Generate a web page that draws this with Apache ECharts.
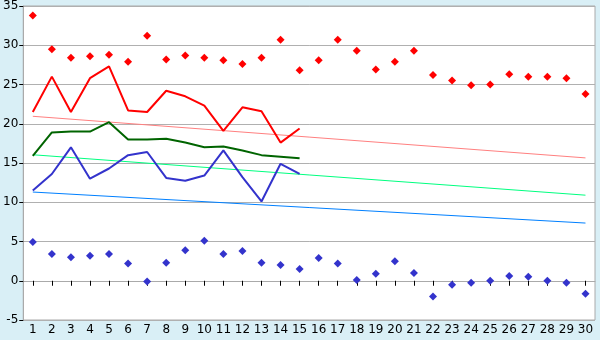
<!DOCTYPE html>
<html>
<head>
<meta charset="utf-8">
<script src="https://cdn.jsdelivr.net/npm/echarts@6/dist/echarts.min.js"></script>
<style>html,body{margin:0;padding:0;background:#d9eff6;}#c{width:600px;height:340px;}</style>
</head>
<body>
<div id="c"></div>
<script>
const categories = ['1','2','3','4','5','6','7','8','9','10','11','12','13','14','15','16','17','18','19','20','21','22','23','24','25','26','27','28','29','30'];
const maxPoints = [33.8,29.5,28.4,28.6,28.8,27.9,31.2,28.2,28.7,28.4,28.1,27.6,28.4,30.7,26.8,28.1,30.7,29.3,26.9,27.9,29.3,26.2,25.5,24.9,25.0,26.3,26.0,26.0,25.8,23.8];
const minPoints = [4.95,3.4,3.0,3.2,3.4,2.2,-0.1,2.3,3.9,5.1,3.4,3.8,2.3,2.0,1.5,2.9,2.2,0.1,0.9,2.5,1.0,-2.0,-0.5,-0.25,0.0,0.6,0.5,0.0,-0.25,-1.65];
const maxLine = [21.5,26.0,21.5,25.8,27.3,21.7,21.5,24.2,23.5,22.3,19.1,22.1,21.6,17.6,19.4];
const avgLine = [15.9,18.9,19.0,19.0,20.2,18.0,18.0,18.1,17.6,17.0,17.1,16.6,16.0,15.8,15.6];
const minLine = [11.5,13.6,17.0,13.0,14.3,16.0,16.4,13.1,12.75,13.4,16.6,13.2,10.1,14.9,13.6];
const maxTrend = [20.95,15.65];
const avgTrend = [16.05,10.9];
const minTrend = [11.3,7.35];

function trend(ends){
  const arr = categories.map(()=>null);
  arr[0] = ends[0];
  arr[arr.length-1] = ends[1];
  return arr;
}

const chart = echarts.init(document.getElementById('c'), null, {renderer:'canvas'});
const font = 'DejaVu Sans';
chart.setOption({
  backgroundColor: '#d9eff6',
  animation: false,
  grid: {left: 21, right: 5, top: 5, bottom: 20, show: true, backgroundColor: '#fff', borderColor: '#aaa', borderWidth: 1},
  xAxis: {
    type: 'category', data: categories, boundaryGap: true,
    axisLine: {show: true, lineStyle: {color: '#aaa'}},
    axisTick: {show: true, alignWithLabel: true, length: 5, lineStyle: {color: '#000'}},
    axisLabel: {color: '#000', fontFamily: font, fontSize: 12, margin: 4, interval: 0},
    splitLine: {show: false}
  },
  yAxis: {
    type: 'value', min: -5, max: 35, interval: 5,
    axisLine: {show: true, lineStyle: {color: '#aaa'}},
    axisTick: {show: true, length: 4, lineStyle: {color: '#000'}},
    axisLabel: {color: '#000', fontFamily: font, fontSize: 12, margin: 5},
    splitLine: {show: true, lineStyle: {color: '#b0b0b0', width: 1}}
  },
  series: [
    {type: 'line', data: trend(maxTrend), connectNulls: true, symbol: 'none', lineStyle: {color: '#ff8080', width: 1}, z: 2},
    {type: 'line', data: trend(avgTrend), connectNulls: true, symbol: 'none', lineStyle: {color: '#00ff80', width: 1}, z: 2},
    {type: 'line', data: trend(minTrend), connectNulls: true, symbol: 'none', lineStyle: {color: '#0080ff', width: 1}, z: 2},
    {type: 'line', data: maxLine, symbol: 'none', lineStyle: {color: '#ff0000', width: 2}, z: 3},
    {type: 'line', data: avgLine, symbol: 'none', lineStyle: {color: '#006400', width: 2}, z: 3},
    {type: 'line', data: minLine, symbol: 'none', lineStyle: {color: '#3333cc', width: 2}, z: 3},
    {type: 'scatter', data: maxPoints, symbol: 'diamond', symbolSize: 8, itemStyle: {color: '#ff0000', opacity: 1}, z: 4},
    {type: 'scatter', data: minPoints, symbol: 'diamond', symbolSize: 8, itemStyle: {color: '#3333cc', opacity: 1}, z: 4}
  ]
});
</script>
</body>
</html>
